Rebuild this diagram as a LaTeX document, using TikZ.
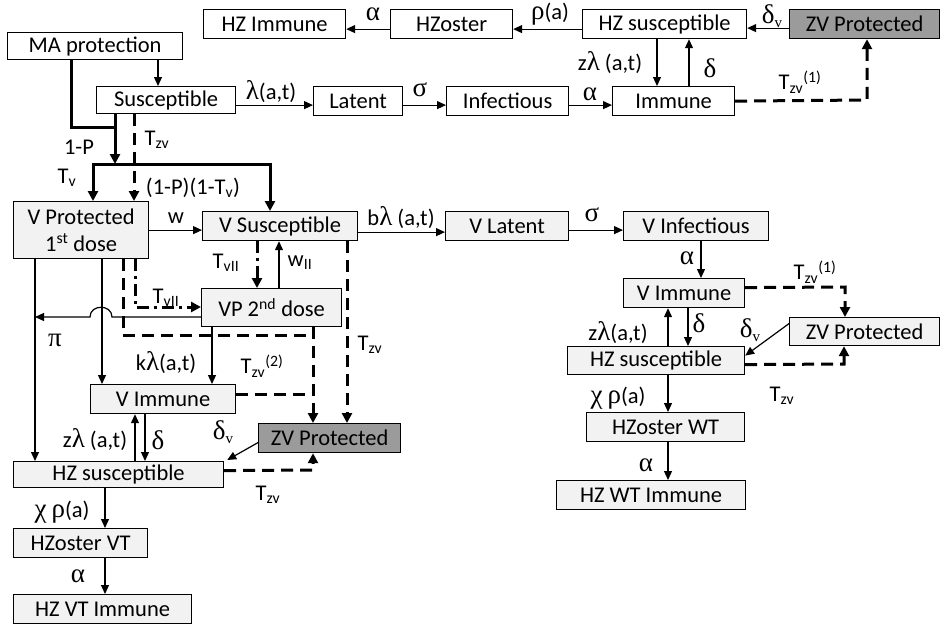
\documentclass[tikz,border=0pt]{standalone}
\usepackage{fontspec}
\setmainfont{Carlito}
\newfontfamily\gkfont{Liberation Serif}
\newcommand\gk[1]{{\gkfont\fontsize{27}{27}\selectfont #1}}
\usetikzlibrary{arrows.meta}
\definecolor{lightf}{RGB}{242,242,242}
\definecolor{darkf}{RGB}{155,155,155}
\tikzset{
 box/.style={draw, line width=1.2pt, inner sep=0pt, anchor=north west, align=center},
 wbox/.style={box, fill=white},
 lbox/.style={box, fill=lightf},
 dbox/.style={box, fill=darkf},
 arr/.style={line width=1.2pt, -{Triangle[length=9pt,width=8pt]}},
 tarr/.style={line width=3pt, -{Triangle[length=10pt,width=10pt]}},
 tline/.style={line width=3pt, line cap=rect},
 dsh/.style={line width=3pt, dash pattern=on 12pt off 7pt},
 dshdot/.style={line width=3pt, dash pattern=on 12pt off 5pt on 3pt off 5pt},
 tip/.style={-{Triangle[length=10pt,width=10pt]}},
 lbl/.style={inner sep=0pt},
}
\newcommand\bx[7]{\node[#6, minimum width={(#4-#2)*1pt}, minimum height={(#5-#3)*1pt}] (#1) at (#2,#3) {#7};}
\newcommand\dv{\gk{δ}{\gkfont\fontsize{15}{16}\selectfont\raisebox{-4pt}{v}}}
\begin{document}
\begin{tikzpicture}[x=1pt,y=-1pt,font=\fontsize{22.5}{27}\selectfont]
\useasboundingbox (0,0) rectangle (941,624);
% boxes
\bx{hzimm}{203}{9}{345}{38}{wbox}{HZ Immune}
\bx{hzost}{390}{9}{512}{38}{wbox}{HZoster}
\bx{hzsus}{582}{9}{746}{38}{wbox}{HZ susceptible}
\bx{zvp}{789}{9}{939}{38}{dbox}{ZV Protected}
\bx{ma}{7}{32}{182}{59}{wbox}{MA protection}
\bx{sus}{96}{86}{235}{113}{wbox}{Susceptible}
\bx{lat}{313}{86}{402}{115}{wbox}{Latent}
\bx{inf}{446}{86}{568}{115}{wbox}{Infectious}
\bx{imm}{612}{86}{734}{115}{wbox}{Immune}
\bx{vpone}{13}{201}{148}{258}{lbox}{V Protected\\1\textsuperscript{st} dose}
\bx{vsus}{202}{211}{357}{240}{lbox}{V Susceptible}
\bx{vlat}{445}{211}{568}{240}{lbox}{V Latent}
\bx{vinf}{623}{211}{768}{240}{lbox}{V Infectious}
\bx{vimmR}{623}{278}{744}{307}{lbox}{V Immune}
\bx{zvpR}{789}{317}{939}{345}{lbox}{ZV Protected}
\bx{hzsusR}{567}{346}{744}{374}{lbox}{HZ susceptible}
\bx{hzostWT}{586}{412}{744}{441}{lbox}{HZoster WT}
\bx{hzWTimm}{556}{480}{745}{509}{lbox}{HZ WT Immune}
\bx{vptwo}{201}{288}{341}{326}{lbox}{VP 2\textsuperscript{nd} dose}
\bx{vimmL}{90}{384}{235}{413}{lbox}{V Immune}
\bx{zvpL}{258}{423}{400}{452}{dbox}{ZV Protected}
\bx{hzsusL}{13}{461}{223}{487}{lbox}{HZ susceptible}
\bx{hzostVT}{13}{528}{147}{557}{lbox}{HZoster VT}
\bx{hzVTimm}{13}{594}{191}{623}{lbox}{HZ VT Immune}
% junction coordinates
\coordinate (jone) at (71,127);
\coordinate (jtwo) at (93,164);
\coordinate (jthree) at (270,164);
\coordinate (jm) at (115,164);
\coordinate (ca) at (867,100);
\coordinate (cb) at (845,287);
\coordinate (cc) at (844,364);
\coordinate (cd) at (135,307);
\coordinate (ce) at (123,335);
\coordinate (cf) at (313,335);
\coordinate (cg) at (313,470);
\coordinate (hopR) at (112,317);
\coordinate (hopL) at (90,317);
\coordinate (pie) at (35,317);
% top row connectors
\draw[arr] ([yshift=-4pt]zvp.west) -- ([yshift=-4pt]zvp.west -| hzsus.east);
\draw[arr] ([yshift=-5pt]hzsus.west) -- ([yshift=-5pt]hzsus.west -| hzost.east);
\draw[arr] ([yshift=-5pt]hzost.west) -- ([yshift=-5pt]hzost.west -| hzimm.east);
\draw[arr] (hzsus.south -| 657,0) -- (imm.north -| 657,0);
\draw[arr] (imm.north -| 689,0) -- (hzsus.south -| 689,0);
\draw[dsh,tip] (imm.east) -- (ca) -- (zvp.south -| ca);
\draw[arr] (ma.south -| 158,0) -- (sus.north -| 158,0);
\draw[arr] ([yshift=-5pt]sus.east) -- ([yshift=-5pt]sus.east -| lat.west);
\draw[arr] ([yshift=-4pt]lat.east) -- ([yshift=-4pt]lat.east -| inf.west);
\draw[arr] ([yshift=-4pt]inf.east) -- ([yshift=-4pt]inf.east -| imm.west);
% thick branches
\draw[tline] (ma.south -| jone) -- (jone) -- (jone -| jm);
\draw[tarr] (sus.south -| jm) -- (jm);
\draw[tline] (jtwo) -- (jthree);
\draw[tarr] (jtwo) -- (vpone.north -| jtwo);
\draw[tarr] (jthree) -- (vsus.north -| jthree);
\draw[dsh,tip] (sus.south -| 134,0) -- (vpone.north -| 134,0);
% V row
\draw[arr] (vpone.east) -- (vpone.east -| vsus.west);
\draw[arr] ([yshift=-6pt]vsus.east) -- ([yshift=-6pt]vsus.east -| vlat.west);
\draw[arr] ([yshift=-4pt]vlat.east) -- ([yshift=-4pt]vlat.east -| vinf.west);
\draw[arr] (vinf.south -| 701,0) -- (vimmR.north -| 701,0);
\draw[dsh,tip] ([yshift=5.5pt]vimmR.east) -- (cb) -- (zvpR.north -| cb);
\draw[arr] (hzsusR.north -| 668,0) -- (vimmR.south -| 668,0);
\draw[arr] (vimmR.south -| 688,0) -- (hzsusR.north -| 688,0);
\draw[arr] ([yshift=8pt]zvpR.west) -- ([yshift=5pt]hzsusR.east);
\draw[dsh,tip] ([yshift=-4pt]hzsusR.east) -- (cc) -- (zvpR.south -| cc);
\draw[arr] (hzsusR.south -| 668,0) -- (hzostWT.north -| 668,0);
\draw[arr] (hzostWT.south -| 668,0) -- (hzWTimm.north -| 668,0);
% left lower
\draw[dshdot,tip] (vsus.south -| 257,0) -- (vptwo.north -| 257,0);
\draw[arr] (vptwo.north -| 279,0) -- (vsus.south -| 279,0);
\draw[dshdot,tip] (vpone.south -| cd) -- (cd) -- (vptwo.west |- cd);
\draw[dsh] (vpone.south -| ce) -- (ce) -- (cf);
\draw[dsh,tip] (vptwo.south -| cf) -- (zvpL.north -| cf);
\draw[dsh] ([yshift=4.5pt]vimmL.east) -- ([yshift=4.5pt]vimmL.east -| cf);
\draw[dsh,tip] (vsus.south -| 347,0) -- (zvpL.north -| 347,0);
\draw[arr] (vpone.south -| pie) -- (hzsusL.north -| pie);
\draw[arr] (vpone.south -| 102,0) -- (vimmL.north -| 102,0);
\draw[arr] (vptwo.west |- hopR) -- (hopR) .. controls (112,304) and (90,304) .. (hopL) -- (pie);
\draw[arr] (vptwo.south -| 212,0) -- (vimmL.north -| 212,0);
\draw[arr] (hzsusL.north -| 135,0) -- (vimmL.south -| 135,0);
\draw[arr] (vimmL.south -| 145,0) -- (hzsusL.north -| 145,0);
\draw[arr] ([yshift=-4.5pt]zvpL.west) -- ([xshift=3pt,yshift=1pt]hzsusL.north east);
\draw[dsh,tip] ([yshift=4pt]hzsusL.east) -- (cg) -- (zvpL.south -| cg);
\draw[arr] (hzsusL.south -| 105,0) -- (hzostVT.north -| 105,0);
\draw[arr] (hzostVT.south -| 105,0) -- (hzVTimm.north -| 105,0);
% labels
\node[lbl] (l1) at (373,14) {\gk{α}};
\node[lbl] (l2) at (550,14) {\gk{ρ}(a)};
\node[lbl] (l3) at (772,16) {\dv};
\node[lbl] (l4) at (610,63) {z\gk{λ} (a,t)};
\node[lbl] (l5) at (710,68) {\gk{δ}};
\node[lbl] (l6) at (800,82) {T\textsubscript{zv}\textsuperscript{(1)}};
\node[lbl] (l7) at (271,92) {\gk{λ}(a,t)};
\node[lbl] (l8) at (420,90) {\gk{σ}};
\node[lbl] (l9) at (590,94) {\gk{α}};
\node[lbl] (l10) at (79,147) {1-P};
\node[lbl] (l11) at (157,140) {T\textsubscript{zv}};
\node[lbl] (l12) at (67,178) {T\textsubscript{v}};
\node[lbl] (l13) at (193,188) {(1-P)(1-T\textsubscript{v})};
\node[lbl] (l14) at (176,218) {w};
\node[lbl] (l15) at (401,218) {b\gk{λ} (a,t)};
\node[lbl] (l16) at (592,215) {\gk{σ}};
\node[lbl] (l17) at (687,258) {\gk{α}};
\node[lbl] (l18) at (815,272) {T\textsubscript{zv}\textsuperscript{(1)}};
\node[lbl] (l19) at (226,263) {T\textsubscript{vII}};
\node[lbl] (l20) at (300,263) {w\textsubscript{II}};
\node[lbl] (l21) at (166,298) {T\textsubscript{vII}};
\node[lbl] (l22) at (55,340) {\gk{π}};
\node[lbl] (l23) at (370,345) {T\textsubscript{zv}};
\node[lbl] (l24) at (166,363) {k\gk{λ}(a,t)};
\node[lbl] (l25) at (262,366) {T\textsubscript{zv}\textsuperscript{(2)}};
\node[lbl] (l26) at (699,323) {\gk{δ}};
\node[lbl] (l27) at (618,333) {z\gk{λ}(a,t)};
\node[lbl] (l28) at (750,330) {\dv};
\node[lbl] (l29) at (95,440) {z\gk{λ} (a,t)};
\node[lbl] (l30) at (158,440) {\gk{δ}};
\node[lbl] (l31) at (223,432) {\dv};
\node[lbl] (l32) at (618,398) {\gk{χ} \gk{ρ}(a)};
\node[lbl] (l33) at (782,396) {T\textsubscript{zv}};
\node[lbl] (l34) at (646,465) {\gk{α}};
\node[lbl] (l35) at (268,495) {T\textsubscript{zv}};
\node[lbl] (l36) at (62,512) {\gk{χ} \gk{ρ}(a)};
\node[lbl] (l37) at (78,576) {\gk{α}};
\end{tikzpicture}
\end{document}
